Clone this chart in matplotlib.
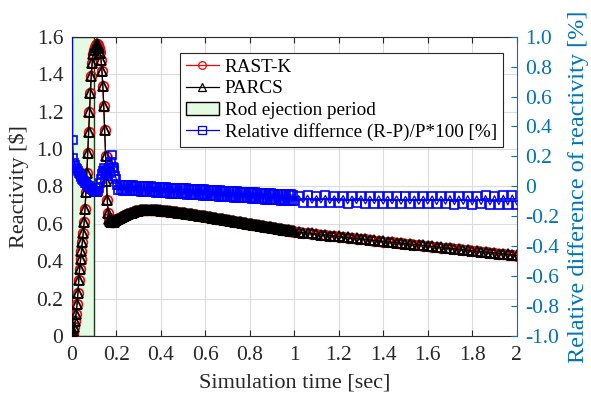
import numpy as np
import matplotlib
matplotlib.use('Agg')
import matplotlib.pyplot as plt
from matplotlib.patches import Patch

plt.rcParams['font.family'] = ['Liberation Serif', 'DejaVu Serif']

# ---------------- data ----------------
time_a = np.round(np.arange(0, 0.2001, 0.004), 3)      # 51 steps
time_b = np.round(np.arange(0.205, 1.00001, 0.005), 3)  # 160 steps
time_c = np.round(np.arange(1.02, 2.0001, 0.02), 2)     # 50 steps

parcs_a = [0.000, 0.008, 0.025, 0.050, 0.080, 0.120, 0.170, 0.230, 0.300, 0.360,
           0.410, 0.455, 0.500, 0.550, 0.610, 0.680, 0.770, 0.870, 0.980, 1.090,
           1.200, 1.300, 1.390, 1.460, 1.505, 1.530, 1.545, 1.555, 1.560, 1.560,
           1.555, 1.540, 1.515, 1.475, 1.415, 1.335, 1.230, 1.100, 0.960, 0.830,
           0.725, 0.660, 0.628, 0.614, 0.608, 0.607, 0.608, 0.611, 0.614, 0.618,
           0.622]
parcs_b = [0.625, 0.628, 0.631, 0.634, 0.637, 0.640, 0.643, 0.646, 0.649, 0.651,
           0.654, 0.656, 0.658, 0.660, 0.662, 0.664, 0.666, 0.667, 0.669, 0.670,
           0.671, 0.672, 0.673, 0.673, 0.674, 0.674, 0.675, 0.675, 0.675, 0.675,
           0.675, 0.675, 0.675, 0.674, 0.674, 0.673, 0.673, 0.672, 0.671, 0.670,
           0.670, 0.669, 0.669, 0.668, 0.668, 0.667, 0.666, 0.666, 0.665, 0.664,
           0.664, 0.663, 0.662, 0.661, 0.661, 0.660, 0.659, 0.658, 0.658, 0.657,
           0.656, 0.655, 0.654, 0.653, 0.652, 0.651, 0.651, 0.650, 0.649, 0.648,
           0.647, 0.646, 0.645, 0.644, 0.643, 0.642, 0.642, 0.641, 0.640, 0.639,
           0.638, 0.637, 0.636, 0.635, 0.634, 0.633, 0.632, 0.631, 0.630, 0.629,
           0.628, 0.627, 0.626, 0.625, 0.624, 0.623, 0.622, 0.621, 0.620, 0.619,
           0.618, 0.617, 0.616, 0.615, 0.614, 0.613, 0.612, 0.611, 0.610, 0.609,
           0.608, 0.607, 0.606, 0.605, 0.604, 0.603, 0.602, 0.601, 0.600, 0.599,
           0.598, 0.597, 0.596, 0.595, 0.594, 0.593, 0.592, 0.591, 0.590, 0.589,
           0.588, 0.587, 0.586, 0.585, 0.584, 0.583, 0.582, 0.581, 0.580, 0.579,
           0.578, 0.577, 0.576, 0.575, 0.574, 0.573, 0.572, 0.571, 0.570, 0.569,
           0.568, 0.567, 0.566, 0.565, 0.564, 0.563, 0.562, 0.561, 0.560, 0.559]
parcs_c = [0.555, 0.553, 0.550, 0.548, 0.545, 0.542, 0.540, 0.537, 0.535, 0.532,
           0.529, 0.527, 0.524, 0.522, 0.519, 0.517, 0.514, 0.511, 0.509, 0.506,
           0.504, 0.501, 0.499, 0.496, 0.494, 0.491, 0.489, 0.486, 0.484, 0.481,
           0.479, 0.476, 0.474, 0.471, 0.469, 0.466, 0.464, 0.461, 0.459, 0.456,
           0.454, 0.451, 0.449, 0.446, 0.444, 0.441, 0.439, 0.436, 0.434, 0.431]

rastk_a = [0.000, 0.008, 0.025, 0.050, 0.080, 0.120, 0.170, 0.230, 0.300, 0.360,
           0.410, 0.455, 0.500, 0.550, 0.610, 0.680, 0.770, 0.870, 0.980, 1.090,
           1.200, 1.300, 1.390, 1.460, 1.505, 1.530, 1.544, 1.554, 1.559, 1.559,
           1.555, 1.540, 1.516, 1.476, 1.416, 1.336, 1.231, 1.101, 0.961, 0.831,
           0.726, 0.660, 0.629, 0.614, 0.609, 0.608, 0.609, 0.612, 0.614, 0.618,
           0.622]
rastk_b = [0.625, 0.628, 0.631, 0.634, 0.637, 0.640, 0.643, 0.646, 0.649, 0.651,
           0.654, 0.656, 0.658, 0.660, 0.662, 0.664, 0.666, 0.667, 0.669, 0.670,
           0.671, 0.672, 0.673, 0.673, 0.674, 0.674, 0.675, 0.675, 0.675, 0.675,
           0.675, 0.675, 0.675, 0.674, 0.674, 0.673, 0.673, 0.672, 0.671, 0.670,
           0.670, 0.669, 0.669, 0.668, 0.668, 0.667, 0.666, 0.666, 0.665, 0.664,
           0.664, 0.663, 0.662, 0.661, 0.661, 0.660, 0.659, 0.658, 0.658, 0.657,
           0.656, 0.655, 0.654, 0.653, 0.652, 0.651, 0.651, 0.650, 0.649, 0.648,
           0.647, 0.646, 0.645, 0.644, 0.643, 0.642, 0.642, 0.641, 0.640, 0.639,
           0.637, 0.636, 0.635, 0.634, 0.633, 0.632, 0.631, 0.630, 0.629, 0.628,
           0.627, 0.626, 0.625, 0.624, 0.623, 0.622, 0.621, 0.620, 0.619, 0.618,
           0.617, 0.616, 0.615, 0.614, 0.613, 0.612, 0.611, 0.610, 0.609, 0.608,
           0.607, 0.606, 0.605, 0.604, 0.603, 0.602, 0.601, 0.600, 0.599, 0.598,
           0.597, 0.596, 0.595, 0.594, 0.593, 0.592, 0.591, 0.590, 0.589, 0.588,
           0.587, 0.586, 0.585, 0.584, 0.583, 0.582, 0.581, 0.580, 0.579, 0.578,
           0.577, 0.576, 0.575, 0.574, 0.573, 0.572, 0.571, 0.570, 0.569, 0.568,
           0.567, 0.566, 0.565, 0.564, 0.563, 0.562, 0.561, 0.560, 0.559, 0.558]
rastk_c = [0.554, 0.552, 0.549, 0.547, 0.544, 0.541, 0.539, 0.536, 0.534, 0.531,
           0.528, 0.526, 0.523, 0.521, 0.518, 0.516, 0.513, 0.510, 0.508, 0.505,
           0.503, 0.500, 0.498, 0.495, 0.493, 0.490, 0.488, 0.485, 0.483, 0.480,
           0.478, 0.475, 0.473, 0.470, 0.468, 0.465, 0.463, 0.460, 0.458, 0.455,
           0.453, 0.450, 0.448, 0.445, 0.443, 0.440, 0.438, 0.435, 0.433, 0.430]

reldiff_a = [2.500, 0.310, 0.190, 0.155, 0.140, 0.125, 0.115, 0.100, 0.090, 0.080,
             0.070, 0.060, 0.050, 0.040, 0.035, 0.025, 0.020, 0.010, 0.005, 0.000,
             -0.005, -0.010, -0.015, -0.020, -0.025, -0.030, -0.035, -0.035, -0.040, -0.035,
             -0.030, -0.010, 0.020, 0.050, 0.080, 0.100, 0.120, 0.090, 0.110, 0.080,
             0.100, 0.070, 0.120, 0.090, 0.160, 0.210, 0.130, 0.100, 0.120, 0.070,
             0.050]
reldiff_b = [0.012, -0.026, 0.011, -0.027, 0.010, -0.028, 0.009, -0.029, 0.009, -0.030,
             0.008, -0.031, 0.007, -0.032, 0.006, -0.033, 0.005, -0.034, 0.004, -0.034,
             0.004, -0.035, 0.003, -0.036, 0.002, -0.037, 0.001, -0.038, 0.000, -0.039,
             -0.001, -0.040, -0.002, -0.041, -0.002, -0.042, -0.003, -0.043, -0.004, -0.044,
             -0.005, -0.045, -0.006, -0.046, -0.007, -0.047, -0.008, -0.048, -0.008, -0.049,
             -0.009, -0.050, -0.010, -0.050, -0.011, -0.051, -0.012, -0.052, -0.013, -0.053,
             -0.014, -0.054, -0.014, -0.055, -0.015, -0.056, -0.016, -0.057, -0.017, -0.058,
             -0.018, -0.059, -0.019, -0.060, -0.019, -0.061, -0.020, -0.062, -0.021, -0.063,
             -0.022, -0.064, -0.023, -0.065, -0.024, -0.065, -0.025, -0.066, -0.025, -0.067,
             -0.026, -0.068, -0.027, -0.069, -0.028, -0.070, -0.029, -0.071, -0.030, -0.072,
             -0.031, -0.073, -0.031, -0.074, -0.032, -0.075, -0.033, -0.076, -0.034, -0.077,
             -0.035, -0.078, -0.036, -0.079, -0.036, -0.080, -0.037, -0.081, -0.038, -0.081,
             -0.039, -0.082, -0.040, -0.083, -0.041, -0.084, -0.042, -0.085, -0.042, -0.086,
             -0.043, -0.087, -0.044, -0.088, -0.045, -0.089, -0.046, -0.090, -0.047, -0.091,
             -0.048, -0.092, -0.048, -0.093, -0.049, -0.094, -0.050, -0.095, -0.051, -0.096,
             -0.052, -0.096, -0.053, -0.097, -0.053, -0.098, -0.054, -0.099, -0.055, -0.100]
reldiff_c = [-0.062, -0.108, -0.060, -0.112, -0.063, -0.110, -0.061, -0.114, -0.064, -0.112,
             -0.062, -0.116, -0.065, -0.114, -0.063, -0.117, -0.066, -0.115, -0.064, -0.118,
             -0.066, -0.116, -0.064, -0.119, -0.067, -0.117, -0.065, -0.120, -0.066, -0.118,
             -0.064, -0.121, -0.066, -0.119, -0.063, -0.122, -0.065, -0.120, -0.062, -0.123,
             -0.064, -0.121, -0.061, -0.124, -0.063, -0.122, -0.060, -0.124, -0.058, -0.123]

ejection_period = [0.0, 0.1]

x_ticks = [0, 0.2, 0.4, 0.6, 0.8, 1.0, 1.2, 1.4, 1.6, 1.8, 2.0]
x_ticklabels = ['0', '0.2', '0.4', '0.6', '0.8', '1', '1.2', '1.4', '1.6', '1.8', '2']
yl_ticks = [0, 0.2, 0.4, 0.6, 0.8, 1.0, 1.2, 1.4, 1.6]
yl_ticklabels = ['0', '0.2', '0.4', '0.6', '0.8', '1.0', '1.2', '1.4', '1.6']
yr_ticks = [-1.0, -0.8, -0.6, -0.4, -0.2, 0, 0.2, 0.4, 0.6, 0.8, 1.0]
yr_ticklabels = ['-1.0', '-0.8', '-0.6', '-0.4', '-0.2', '0', '0.2', '0.4', '0.6', '0.8', '1.0']

time = np.concatenate([time_a, time_b, time_c])
parcs = np.array(parcs_a + parcs_b + parcs_c)
rastk = np.array(rastk_a + rastk_b + rastk_c)
reldiff = np.array(reldiff_a + reldiff_b + reldiff_c)

# ---------------- figure ----------------
BLUE_AX = '#0072BD'
DARK = '#262626'
fig = plt.figure(figsize=(5.91, 3.94), dpi=100)
ax1 = fig.add_axes([0.1213, 0.1472, 0.753, 0.7597])
ax2 = ax1.twinx()

ax1.axvspan(ejection_period[0], ejection_period[1], facecolor='#e3fbe3',
            edgecolor='#203a20', linewidth=1.0, zorder=1)
l_r, = ax1.plot(time, rastk, '-o', color='red', mfc='none', ms=7.0, mew=1.2,
                lw=0.9, zorder=3)
l_p, = ax1.plot(time, parcs, '-^', color='black', mfc='none', ms=6.8, mew=1.3,
                lw=0.9, zorder=4)
l_b, = ax2.plot(time, reldiff, '-s', color='blue', mfc='none', ms=6.3, mew=1.2,
                lw=0.9, zorder=3)

ax1.set_xlim(0, 2)
ax1.set_ylim(0, 1.6)
ax2.set_ylim(-1, 1)
ax1.set_xticks(x_ticks)
ax1.set_xticklabels(x_ticklabels)
ax1.set_yticks(yl_ticks)
ax1.set_yticklabels(yl_ticklabels)
ax2.set_yticks(yr_ticks)
ax2.set_yticklabels(yr_ticklabels)

ax1.grid(True, color='#dcdcdc', linewidth=0.8, zorder=0)
ax1.set_axisbelow(True)

ax1.tick_params(axis='both', direction='in', top=True, right=False,
                labelsize=15.5, length=4, width=0.8, colors=DARK,
                labelcolor=DARK, pad=6)
ax1.tick_params(axis='x', pad=7)
ax2.tick_params(axis='y', direction='in', labelsize=15.5, length=4, width=0.8,
                colors=BLUE_AX, labelcolor=BLUE_AX, pad=6)

for sp in ['left', 'top', 'bottom']:
    ax1.spines[sp].set_color(DARK)
    ax1.spines[sp].set_linewidth(0.8)
ax1.spines['right'].set_visible(False)
for sp in ['left', 'top', 'bottom']:
    ax2.spines[sp].set_visible(False)
ax2.spines['right'].set_color(BLUE_AX)
ax2.spines['right'].set_linewidth(0.8)

ax1.set_xlabel('Simulation time [sec]', fontsize=16, color=DARK, labelpad=6.5)
ax1.set_ylabel('Reactivity [\\$]', fontsize=16, color=DARK, labelpad=5)
ax2.set_ylabel('Relative difference of reactivity [%]', fontsize=17.5,
               color=BLUE_AX, labelpad=6)

green_patch = Patch(facecolor='#e3fbe3', edgecolor='black', linewidth=1.0)
leg = ax2.legend([l_r, l_p, green_patch, l_b],
                 ['RAST-K', 'PARCS', 'Rod ejection period',
                  'Relative differnce (R-P)/P*100 [%]'],
                 loc='upper right', bbox_to_anchor=(0.9685, 0.9466),
                 fontsize=13.8, frameon=True, fancybox=False, framealpha=1,
                 edgecolor=DARK, borderaxespad=0, handlelength=1.75,
                 labelspacing=0.22, borderpad=0.3, handletextpad=0.3)
leg.get_frame().set_linewidth(0.8)
for h in leg.legend_handles:
    if hasattr(h, 'set_markersize'):
        h.set_markersize(5.5)
        h.set_markeredgewidth(0.9)

fig.savefig('out.png', dpi=100)
